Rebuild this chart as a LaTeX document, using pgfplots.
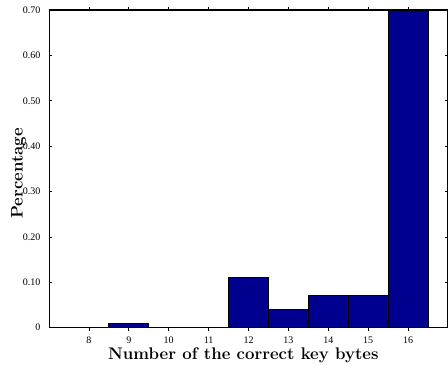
\documentclass[border=0pt]{standalone}
\usepackage{fontspec}
\usepackage{pgfplots}
\pgfplotsset{compat=1.18}
\newfontfamily\tnr{Liberation Serif}
\definecolor{barblue}{RGB}{0,0,143}
\begin{document}
\begin{tikzpicture}
\begin{axis}[
  name=ax,
  scale only axis,
  width=299pt, height=238pt,
  xmin=7, xmax=17, ymin=0, ymax=0.70,
  xtick={8,...,16},
  ytick={0,0.1,0.2,0.3,0.4,0.5,0.6,0.7},
  yticklabels={0,0.10,0.20,0.30,0.40,0.50,0.60,0.70},
  tick align=inside,
  major tick length=2.5pt,
  tick style={black, line width=0.5pt},
  axis line style={line width=0.8pt},
  /pgf/number format/assume math mode=true,
  tick label style={font=\tnr\fontsize{7.5}{8}\selectfont},
  yticklabel style={xshift=-3pt},
  xticklabel style={yshift=-1pt},
  xlabel={\bfseries Number of the correct key bytes},
  ylabel={\bfseries Percentage},
  label style={font=\fontsize{12.6}{14}\selectfont},
  xlabel style={at={(axis description cs:0.487,0)}, anchor=base, yshift=-24pt},
  ylabel style={at={(axis description cs:-0.066,0.486)}, anchor=base, rotate=0},
  ybar, bar width=1, bar shift=0pt,
]
\addplot[fill=barblue, draw=black, line width=0.6pt] coordinates {
(8,0) (9,0.01) (10,0) (11,0) (12,0.11) (13,0.04) (14,0.07) (15,0.07) (16,0.70)
};
\end{axis}
\pgfresetboundingbox
\path ([xshift=-36.75pt, yshift=-27.75pt]ax.south west) rectangle ([yshift=7.5pt]ax.north east);
\end{tikzpicture}
\end{document}
